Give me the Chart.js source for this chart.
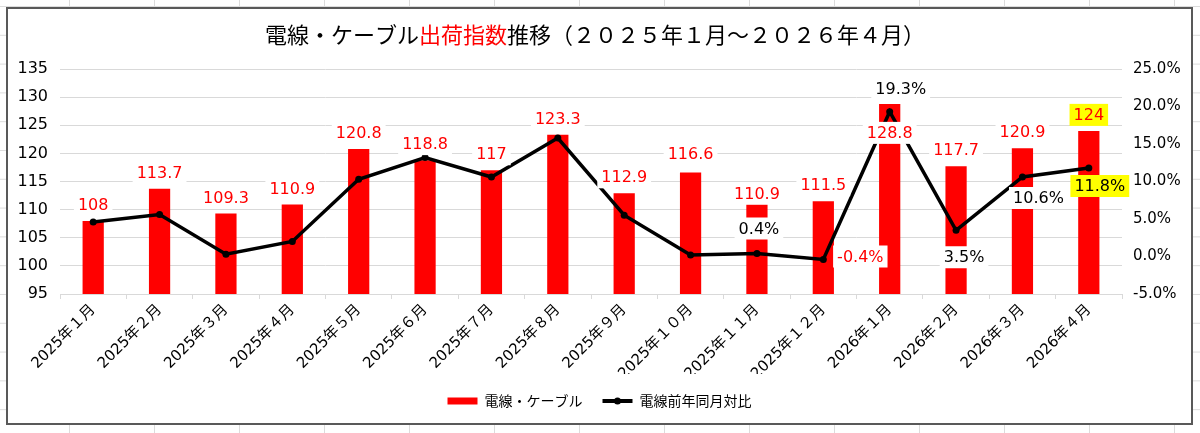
<!DOCTYPE html>
<html>
<head>
<meta charset="utf-8">
<script src="https://cdn.jsdelivr.net/npm/chart.js@4.4.1/dist/chart.umd.min.js"></script>
<style>
  body {
    margin: 0;
    width: 1200px;
    height: 433px;
    overflow: hidden;
    background-color: #fff;
    background-image:
      linear-gradient(to right, #dcdcdc 1px, transparent 1px),
      linear-gradient(to bottom, #dcdcdc 1px, transparent 1px);
    background-size: 85px 28.8px;
    background-position: 69px 6px;
  }
  #box {
    position: absolute;
    left: 6px;
    top: 7px;
    width: 1183px;
    height: 414px;
    border: 2px solid #595959;
    background: #fff;
  }
</style>
</head>
<body>
<div id="box"><canvas id="chart" width="1183" height="414"></canvas></div>
<script>
var months = [
    '2025年１月', '2025年２月', '2025年３月', '2025年４月', '2025年５月', '2025年６月',
    '2025年７月', '2025年８月', '2025年９月', '2025年１０月', '2025年１１月', '2025年１２月',
    '2026年１月', '2026年２月', '2026年３月', '2026年４月'
];
var shipIndex = [108, 113.7, 109.3, 110.9, 120.8, 118.8, 117, 123.3, 112.9, 116.6, 110.9, 111.5, 128.8, 117.7, 120.9, 124];
var yoyPct = [4.6, 5.6, 0.3, 2.0, 10.3, 13.2, 10.6, 15.8, 5.5, 0.2, 0.4, -0.4, 19.3, 3.5, 10.6, 11.8];
var leftTicks = { min: 95, max: 135, step: 5 };
var rightTicks = { min: -5, max: 25, step: 5 };

// label placement (offsets from the mark, px)
var barLabelDy = [-16, -16, -16, -16, -16, -16, -16, -16, -16, -19, -11, -16, 29, -16, -16, -16];
var pctLabelOffset = [null, null, null, null, null, null, null, null, null, null,
    [2, -25], [37, -3], [11, -23], [8, 27], [16, 21], [11, 18]];
var highlightIndex = 15;

var numFont = '16px "DejaVu Sans"';
var cjkFont = '"Noto Sans CJK JP", "DejaVu Sans", sans-serif';

function drawLabel(ctx, text, x, y, color, bg) {
    var w = ctx.measureText(text).width;
    ctx.fillStyle = bg;
    ctx.fillRect(x - w / 2 - 4, y - 11, w + 8, 22);
    ctx.fillStyle = color;
    ctx.fillText(text, x, y + 1);
}

var valueLabels = {
    id: 'valueLabels',
    afterDatasetsDraw: function(chart) {
        var ctx = chart.ctx;
        var bars = chart.getDatasetMeta(0).data;
        var pts = chart.getDatasetMeta(1).data;
        ctx.save();
        ctx.font = numFont;
        ctx.textAlign = 'center';
        ctx.textBaseline = 'middle';
        bars.forEach(function(bar, i) {
            var bg = i === highlightIndex ? '#ffff00' : '#ffffff';
            drawLabel(ctx, String(shipIndex[i]), bar.x, bar.y + barLabelDy[i], '#ff0000', bg);
        });
        pts.forEach(function(pt, i) {
            var off = pctLabelOffset[i];
            if (!off) return;
            var v = yoyPct[i];
            var bg = i === highlightIndex ? '#ffff00' : '#ffffff';
            drawLabel(ctx, v.toFixed(1) + '%', pt.x + off[0], pt.y + off[1], v < 0 ? '#ff0000' : '#000000', bg);
        });
        ctx.restore();
    },
    afterDraw: function(chart) {
        var ctx = chart.ctx;
        // title with mixed colours
        var parts = [['電線・ケーブル', '#000000'], ['出荷指数', '#ff0000'], ['推移（２０２５年１月～２０２６年４月）', '#000000']];
        ctx.save();
        ctx.font = '22px ' + cjkFont;
        ctx.textBaseline = 'middle';
        ctx.textAlign = 'left';
        var total = 0;
        parts.forEach(function(p) { total += ctx.measureText(p[0]).width; });
        var x = 587 - total / 2;
        parts.forEach(function(p) {
            ctx.fillStyle = p[1];
            ctx.fillText(p[0], x, 26);
            x += ctx.measureText(p[0]).width;
        });
        // line legend swatch with marker
        var lg = chart.legend;
        var idx = lg.legendItems.findIndex(function(it) { return it.datasetIndex === 1; });
        if (idx >= 0) {
            var hb = lg.legendHitBoxes[idx];
            var cy = hb.top + hb.height / 2;
            ctx.strokeStyle = '#000';
            ctx.lineWidth = 4;
            ctx.beginPath();
            ctx.moveTo(hb.left, cy);
            ctx.lineTo(hb.left + 30, cy);
            ctx.stroke();
            ctx.fillStyle = '#000';
            ctx.beginPath();
            ctx.arc(hb.left + 15, cy, 3.5, 0, Math.PI * 2);
            ctx.fill();
        }
        ctx.restore();
    }
};

var config = {
    type: 'bar',
    data: {
        labels: months,
        datasets: [{
            type: 'bar',
            label: '電線・ケーブル',
            data: shipIndex,
            yAxisID: 'y',
            backgroundColor: '#ff0000',
            barPercentage: 0.32,
            categoryPercentage: 1,
            order: 2
        }, {
            type: 'line',
            label: '電線前年同月対比',
            data: yoyPct,
            yAxisID: 'y1',
            borderColor: '#000000',
            backgroundColor: '#000000',
            borderWidth: 3.5,
            pointRadius: 3.5,
            pointBackgroundColor: '#000000',
            pointBorderWidth: 0,
            tension: 0,
            order: 1
        }]
    },
    options: {
        responsive: false,
        animation: false,
        layout: { padding: { top: 60, bottom: 5, left: 0, right: 0 } },
        scales: {
            x: {
                offset: true,
                grid: { drawOnChartArea: false, drawTicks: true, tickLength: 5, color: '#d9d9d9' },
                border: { color: '#d9d9d9' },
                ticks: {
                    autoSkip: false,
                    minRotation: 45,
                    maxRotation: 45,
                    padding: 2,
                    color: '#000',
                    font: { size: 15, family: '"DejaVu Sans", "Noto Sans CJK JP"' }
                },
                afterFit: function(s) { s.height = 80; }
            },
            y: {
                position: 'left',
                min: leftTicks.min,
                max: leftTicks.max,
                grid: { color: '#d9d9d9', drawTicks: false },
                border: { display: false },
                ticks: {
                    stepSize: leftTicks.step,
                    padding: 12,
                    color: '#000',
                    font: { size: 16, family: '"DejaVu Sans"' }
                },
                afterFit: function(s) { s.width = 52; }
            },
            y1: {
                position: 'right',
                min: rightTicks.min,
                max: rightTicks.max,
                grid: { drawOnChartArea: false, drawTicks: false },
                border: { display: false },
                ticks: {
                    stepSize: rightTicks.step,
                    padding: 11,
                    color: '#000',
                    font: { size: 15, family: '"DejaVu Sans"' },
                    callback: function(v) { return v.toFixed(1) + '%'; }
                },
                afterFit: function(s) { s.width = 69; }
            }
        },
        plugins: {
            title: { display: false },
            tooltip: { enabled: false },
            legend: {
                position: 'bottom',
                labels: {
                    color: '#000',
                    font: { size: 14, family: cjkFont },
                    boxWidth: 30,
                    boxHeight: 7,
                    padding: 20,
                    sort: function(a, b) { return a.datasetIndex - b.datasetIndex; },
                    generateLabels: function(chart) {
                        var items = Chart.defaults.plugins.legend.labels.generateLabels(chart);
                        items.forEach(function(it) {
                            it.lineWidth = 0;
                            it.strokeStyle = 'rgba(0,0,0,0)';
                            if (it.datasetIndex === 1) it.fillStyle = 'rgba(0,0,0,0)';
                        });
                        return items;
                    }
                }
            }
        }
    },
    plugins: [valueLabels]
};

window.onload = function() {
    var ctx = document.getElementById('chart').getContext('2d');
    window.shipChart = new Chart(ctx, config);
};
</script>
</body>
</html>
